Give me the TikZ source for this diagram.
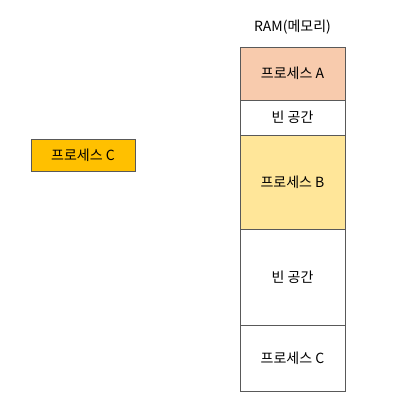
\documentclass[tikz,border=0pt]{standalone}
\usepackage{fontspec}
\newfontfamily\kr{Noto Sans CJK KR}
\usetikzlibrary{positioning}
\definecolor{procA}{HTML}{F8CBAD}
\definecolor{procB}{HTML}{FFE699}
\definecolor{procC}{HTML}{FFC000}
\definecolor{frame}{HTML}{595959}
\begin{document}
\begin{tikzpicture}[x=1pt, y=-1pt,
      mem/.style={draw=frame, fill=white, minimum width=105pt, inner sep=0pt,
                  outer sep=0pt, font=\kr\fontsize{14}{16}\selectfont},
      waiting/.style={mem, fill=procC, minimum width=104pt, minimum height=32pt}
    ]
      \useasboundingbox (0,0) rectangle (420,407);
      % Title
      \node[font=\kr\fontsize{14}{16}\selectfont] (title) at (292.5,27) {RAM(메모리)};

      % Memory blocks
      \node[mem, fill=procA, minimum height=53pt, anchor=north] (blockA) at (292.5,47) {프로세스 A};
      \node[mem, minimum height=35pt, below=0pt of blockA] (free1) {빈 공간};
      \node[mem, fill=procB, minimum height=94pt, below=0pt of free1] (blockB) {프로세스 B};
      \node[mem, minimum height=96pt, below=0pt of blockB] (free2) {빈 공간};
      \node[mem, minimum height=66pt, below=0pt of free2] (blockC) {프로세스 C};

      % Process waiting outside
      \node[waiting] (procwait) at (83,155) {프로세스 C};
    \end{tikzpicture}
\end{document}
